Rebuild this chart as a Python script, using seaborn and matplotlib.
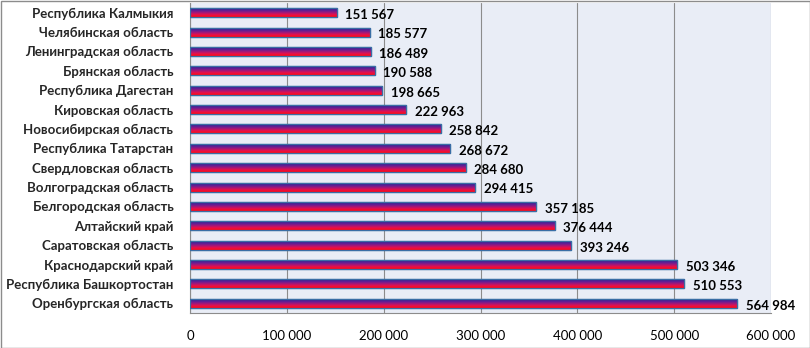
import numpy as np
import pandas as pd
import matplotlib
matplotlib.use("Agg")
import matplotlib.pyplot as plt
import seaborn as sns
from matplotlib.colors import LinearSegmentedColormap
from matplotlib.patches import Rectangle

regions = ["Республика Калмыкия", "Челябинская область", "Ленинградская область",
           "Брянская область", "Республика Дагестан", "Кировская область",
           "Новосибирская область", "Республика Татарстан", "Свердловская область",
           "Волгоградская область", "Белгородская область", "Алтайский край",
           "Саратовская область", "Краснодарский край", "Республика Башкортостан",
           "Оренбургская область"]
values = [151567, 185577, 186489, 190588, 198665, 222963, 258842, 268672, 284680,
          294415, 357185, 376444, 393246, 503346, 510553, 564984]
xticks = [0, 100000, 200000, 300000, 400000, 500000, 600000]

df = pd.DataFrame({"region": regions, "value": values})

sns.set_style("white")
plt.rcParams['font.family'] = ['Lato', 'DejaVu Sans']

fig = plt.figure(figsize=(8.1, 3.48), dpi=100)
ax = fig.add_axes([190/810, 35/348, 581/810, 310/348])
ax.set_facecolor("#E9EDF6")

sns.barplot(data=df, y="region", x="value", orient="h", ax=ax, width=0.46,
            color="#5030A0", edgecolor="#3A6EA5", linewidth=0.9, zorder=3)

cmap = LinearSegmentedColormap.from_list("g", ["#2C1F86", "#5A1F98", "#A0187A", "#E8104A", "#FF0A10"])
grad = np.linspace(0, 1, 64).reshape(-1, 1)
for p in ax.patches:
    x0, y0 = p.get_x(), p.get_y()
    w, h = p.get_width(), p.get_height()
    im = ax.imshow(grad, cmap=cmap, aspect="auto", extent=(x0, x0 + w, y0 + h, y0),
                   origin="upper", zorder=3.5, interpolation="bilinear")
    im.set_clip_path(p)
    ax.add_patch(Rectangle((x0, y0), w, h, fill=False, edgecolor="#3A6EA5", lw=0.9, zorder=4))

for i, v in enumerate(values):
    ax.text(v + 9000, i + 0.12, f"{v:,}".replace(",", " "), va="center", ha="left",
            fontsize=9.5, fontweight="bold", color="black", zorder=5)

ax.set_xlim(0, 600000)
ax.set_ylim(len(regions) - 0.5, -0.5)
ax.set_xticks(xticks)
ax.set_xticklabels([f"{t:,}".replace(",", " ") for t in xticks], fontsize=9.5, color="black")
ax.tick_params(axis="y", labelsize=9.5, length=0, pad=12)
for lab in ax.get_yticklabels():
    lab.set_fontweight("bold")
ax.set_xlabel("")
ax.set_ylabel("")
ax.grid(axis="x", color="#8C8C8C", lw=0.8, zorder=0)
ax.set_axisbelow(True)
for s in ["top", "right"]:
    ax.spines[s].set_visible(False)
for s in ["left", "bottom"]:
    ax.spines[s].set_color("#8C8C8C")
    ax.spines[s].set_linewidth(0.8)
ax.set_yticks(np.arange(-0.5, len(regions), 1), minor=True)
ax.tick_params(axis="y", which="minor", length=4, color="#8C8C8C", direction="out")
ax.tick_params(axis="x", length=4, color="#8C8C8C", direction="out", pad=8)

fig.patches.append(Rectangle((0.5/810, 0.5/348), 809/810, 347/348, transform=fig.transFigure,
                             fill=False, edgecolor="#8C8C8C", lw=1))
fig.savefig("out.png", dpi=100)
